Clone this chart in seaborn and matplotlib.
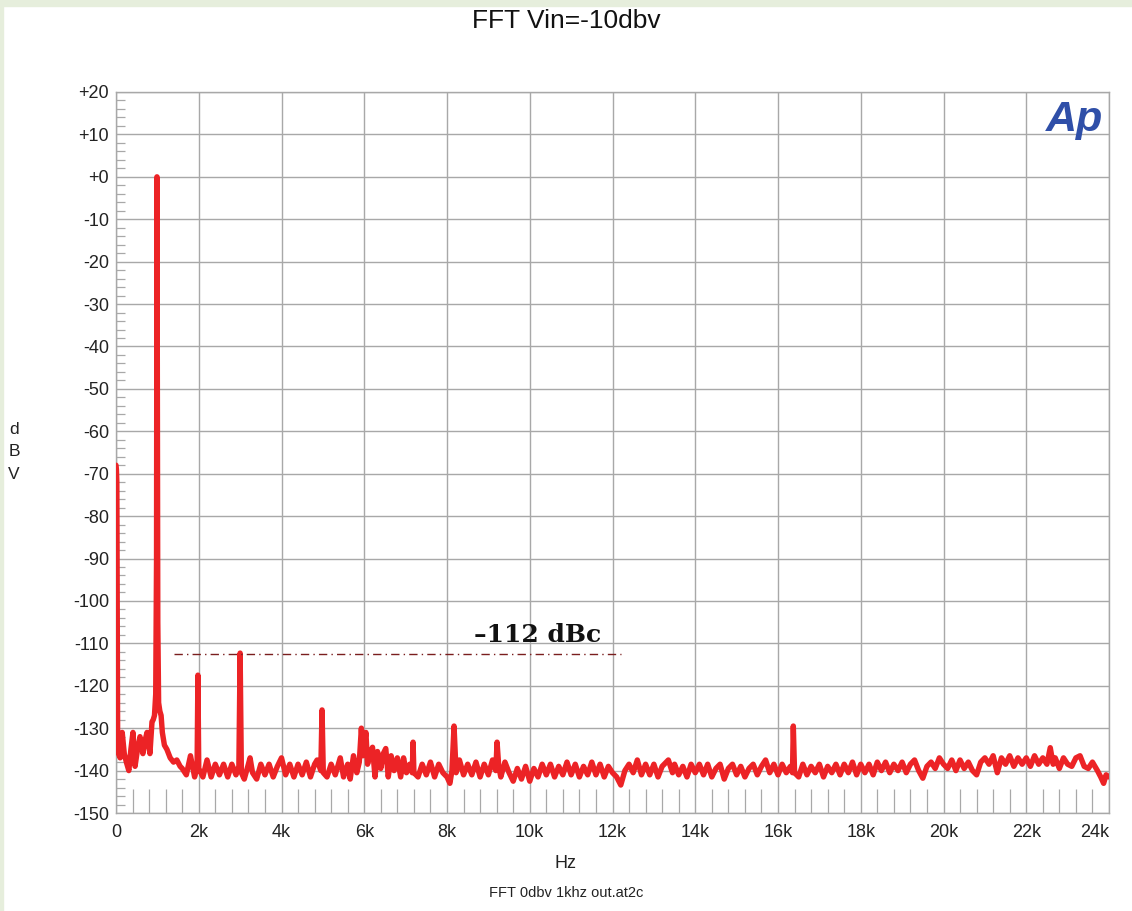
import numpy as np
import pandas as pd
import matplotlib
matplotlib.use("Agg")
import matplotlib.pyplot as plt
from matplotlib import font_manager
from matplotlib.ticker import MultipleLocator
import seaborn as sns

# ---------------- data ----------------
title_text = "FFT Vin=-10dbv"
xlabel_text = "Hz"
ylabel_text = "d\nB\nV"
file_text = "FFT 0dbv 1khz out.at2c"
note_text = "\u2013112 dBc"
note_level = -112.4
note_start_khz = 1.40
note_end_khz = 12.2

x_ticks_khz = [0, 2, 4, 6, 8, 10, 12, 14, 16, 18, 20, 22, 24]
x_tick_labels = ["0", "2k", "4k", "6k", "8k", "10k", "12k", "14k", "16k", "18k", "20k", "22k", "24k"]
y_ticks = [20, 10, 0, -10, -20, -30, -40, -50, -60, -70, -80, -90, -100, -110, -120, -130, -140, -150]
y_tick_labels = ["+20", "+10", "+0", "-10", "-20", "-30", "-40", "-50", "-60", "-70", "-80", "-90",
                 "-100", "-110", "-120", "-130", "-140", "-150"]

# spectrum: low-frequency region and fundamental
freq_low_khz = [0.00, 0.01, 0.02, 0.03, 0.04, 0.06, 0.10, 0.15, 0.20, 0.25, 0.31, 0.36, 0.41, 0.46,
                0.52, 0.58, 0.65, 0.70, 0.75, 0.82, 0.87, 0.90, 0.93, 0.96, 0.98, 0.99, 1.00, 1.01,
                1.03, 1.06, 1.09, 1.12, 1.17, 1.23, 1.31, 1.39, 1.47, 1.55]
level_low_dbv = [-68, -69, -72, -105, -134, -136, -137, -131, -136, -138, -140, -135, -131, -139,
                 -135, -132, -136, -133, -131, -136, -128.5, -128, -127, -122, -90, 0, -60, -105,
                 -124, -126, -127, -131, -134, -135, -137, -138, -137.5, -139]

# spectrum: 1.6 kHz .. 8 kHz
freq_mid_khz = [1.6, 1.7, 1.8, 1.9, 1.96, 1.98, 2.00, 2.1, 2.2, 2.3, 2.4, 2.5, 2.6, 2.7, 2.8, 2.9,
                2.97, 3.00, 3.03, 3.1, 3.2, 3.24, 3.3, 3.4, 3.5, 3.6, 3.7, 3.8, 3.9, 4.0, 4.1, 4.2,
                4.3, 4.4, 4.5, 4.6, 4.7, 4.8, 4.86, 4.95, 4.98, 5.01, 5.1, 5.2, 5.3, 5.42, 5.5, 5.6,
                5.66, 5.74, 5.82, 5.88, 5.93, 5.97, 6.04, 6.08, 6.14, 6.2, 6.26, 6.32, 6.4, 6.46,
                6.52, 6.58, 6.65, 6.72, 6.8, 6.88, 6.95, 7.02, 7.1, 7.16, 7.18, 7.2, 7.3, 7.4, 7.5,
                7.6, 7.7, 7.8, 7.9]
level_mid_dbv = [-139.5, -141, -136.5, -141.5, -139, -117.5, -139.5, -141.5, -137.5, -141.5,
                 -138.5, -141, -138.5, -141.5, -138.5, -141, -139, -112.3, -140.5, -142, -138.5,
                 -137, -140.5, -142, -138.5, -141, -138.5, -141.5, -139, -137, -141, -138.5,
                 -141.5, -138.5, -141, -138, -141.5, -138.5, -137.5, -140, -125.7, -140.5, -141.5,
                 -138.5, -141, -137, -141.5, -138.5, -142, -136.5, -140.5, -138, -130, -136.5,
                 -131, -138.5, -136, -134.5, -141.5, -135.5, -139.5, -136, -134.8, -141.5, -136.5,
                 -140, -137, -141.5, -137, -140.5, -138.5, -140.5, -133.3, -140.5, -141.5, -138.5,
                 -141, -138, -141.5, -138.5, -140.5]

# spectrum: 8 kHz .. 16 kHz
freq_high_khz = [8.0, 8.07, 8.12, 8.17, 8.22, 8.3, 8.4, 8.5, 8.6, 8.7, 8.8, 8.9, 9.0, 9.1, 9.18,
                 9.21, 9.25, 9.3, 9.4, 9.5, 9.6, 9.7, 9.8, 9.9, 10.0, 10.1, 10.2, 10.3, 10.4, 10.5,
                 10.6, 10.7, 10.8, 10.9, 11.0, 11.1, 11.2, 11.3, 11.4, 11.5, 11.6, 11.7, 11.8, 11.9,
                 12.0, 12.1, 12.2, 12.3, 12.4, 12.5, 12.6, 12.7, 12.8, 12.9, 13.0, 13.1, 13.2, 13.35,
                 13.45, 13.5, 13.6, 13.7, 13.8, 13.9, 14.0, 14.1, 14.2, 14.3, 14.4, 14.5, 14.6, 14.7,
                 14.8, 14.9, 15.0, 15.1, 15.2, 15.3, 15.4, 15.5, 15.6, 15.7, 15.8, 15.9]
level_high_dbv = [-141.5, -143, -140, -129.5, -140.5, -137.5, -141, -138.5, -141, -138, -141.5,
                  -138.5, -141, -137.5, -140, -133.3, -139, -141.5, -138, -140.5, -142.5, -139.5,
                  -142, -139, -142.5, -139.5, -141.5, -138.5, -141, -138.5, -141.5, -139, -141,
                  -138, -141, -138.5, -141.5, -139, -141, -138, -141, -138.5, -141.5, -139, -140.5,
                  -141.5, -143.4, -140, -138.5, -140.5, -137.5, -141, -138.5, -141, -138.5, -141.5,
                  -139, -137.5, -140.5, -138.5, -141, -139, -141.5, -138.5, -140.5, -138.5, -141,
                  -138.5, -141.5, -139.5, -138.5, -142, -139.5, -138.5, -141, -139, -141.5, -139.5,
                  -138.5, -141, -139, -137.5, -140.5, -138.5]

# spectrum: 16 kHz .. 24 kHz
freq_top_khz = [16.0, 16.1, 16.2, 16.3, 16.35, 16.37, 16.4, 16.5, 16.6, 16.7, 16.8, 16.9, 17.0,
                17.1, 17.2, 17.3, 17.4, 17.5, 17.6, 17.7, 17.8, 17.9, 18.0, 18.1, 18.2, 18.3, 18.4,
                18.5, 18.6, 18.7, 18.8, 18.9, 19.0, 19.1, 19.2, 19.3, 19.4, 19.5, 19.6, 19.7, 19.8,
                19.9, 20.0, 20.1, 20.2, 20.3, 20.4, 20.5, 20.6, 20.7, 20.8, 20.9, 21.0, 21.1, 21.2,
                21.3, 21.4, 21.5, 21.6, 21.7, 21.8, 21.9, 22.0, 22.1, 22.2, 22.3, 22.4, 22.5, 22.58,
                22.65, 22.7, 22.8, 22.9, 23.0, 23.1, 23.2, 23.3, 23.4, 23.5, 23.6, 23.72, 23.8,
                23.87, 23.93, 24.0]
level_top_dbv = [-141, -138.5, -140.5, -139, -140.5, -129.5, -140.5, -141.5, -138.5, -141, -139,
                 -140.5, -138.5, -141.5, -139, -140.5, -138.5, -141, -138.5, -140.5, -138, -141,
                 -138.5, -140.5, -138.5, -141, -138, -140, -138, -140.5, -138.5, -140, -138, -140.5,
                 -138.5, -137.5, -140, -141.8, -139, -138, -139.5, -137, -138.5, -139.5, -137.5,
                 -140, -137.5, -139.5, -138, -140, -141, -138, -137, -138.5, -136.5, -140.5, -137,
                 -138.5, -136.5, -139, -137, -138.5, -137, -139, -136.5, -138.5, -137, -138.5,
                 -134.6, -138.5, -137, -139.5, -137, -138.5, -139, -137, -136.5, -139, -139.5,
                 -138, -140, -141.5, -143, -141, -141.5]

# ---------------- fonts ----------------
def has_font(name):
    try:
        font_manager.findfont(font_manager.FontProperties(family=name), fallback_to_default=False)
        return True
    except Exception:
        return False

narrow = "Liberation Sans Narrow" if has_font("Liberation Sans Narrow") else "Liberation Sans"

sns.set_theme(style="white")
plt.rcParams["font.family"] = ["Liberation Sans", "DejaVu Sans"]

grid_col = "#a8a8a8"
trace_col = "#ec2326"

df = pd.DataFrame({
    "freq": np.array(freq_low_khz + freq_mid_khz + freq_high_khz + freq_top_khz),
    "level": np.array(level_low_dbv + level_mid_dbv + level_high_dbv + level_top_dbv),
})

fig = plt.figure(figsize=(11.32, 9.11), dpi=100, facecolor="white")
ax = fig.add_axes([116 / 1132, 1 - 813 / 911, (1109 - 116) / 1132, (813 - 92) / 911])
ax.set_facecolor("white")

# light green frame strips (top and left)
fig.patches.append(plt.Rectangle((0, 1 - 6 / 911), 1, 6 / 911, transform=fig.transFigure,
                                 color="#e6eedc", zorder=0))
fig.patches.append(plt.Rectangle((0, 0), 3 / 1132, 1, transform=fig.transFigure,
                                 color="#e6eedc", zorder=0))

ax.set_xlim(0, 24)
ax.set_ylim(-150, 20)

ax.set_xticks(x_ticks_khz)
ax.set_xticklabels(x_tick_labels)
ax.set_yticks(y_ticks)
ax.set_yticklabels(y_tick_labels)
ax.xaxis.set_minor_locator(MultipleLocator(0.4))
ax.yaxis.set_minor_locator(MultipleLocator(2))

ax.grid(True, which="major", color=grid_col, linewidth=1.0)
ax.tick_params(axis="both", which="major", length=0, labelsize=13, colors="#222222")
ax.tick_params(axis="x", which="major", pad=8)
ax.tick_params(axis="y", which="major", pad=5)
ax.tick_params(axis="x", which="minor", direction="in", length=17, width=0.9, color=grid_col,
               bottom=True)
ax.tick_params(axis="y", which="minor", direction="in", length=6.5, width=0.9, color=grid_col,
               left=True)
for s in ax.spines.values():
    s.set_color(grid_col)
    s.set_linewidth(1.0)

lbls = ax.get_xticklabels()
lbls[-1].set_horizontalalignment("right")

sns.lineplot(data=df, x="freq", y="level", ax=ax, color=trace_col, linewidth=3.9,
             estimator=None, sort=False, legend=False, zorder=3)
ax.set_xlabel("")
ax.set_ylabel("")

# reference annotation
ax.hlines(note_level, note_start_khz, note_end_khz, colors="#7a1e1e", linewidth=1.0,
          linestyles=[(0, (6, 3, 1, 3))], zorder=4)
ax.text(10.2, note_level + 1.5, note_text, ha="center", va="bottom", fontsize=18,
        fontweight="bold", family=["DejaVu Serif"], color="#111111", zorder=5)

# Ap logo
ax.text(23.85, 13.3, "Ap", ha="right", va="center", fontsize=31, fontweight="bold",
        fontstyle="italic", color="#2f4fa8", family=["Liberation Sans", "DejaVu Sans"], zorder=5)

# texts
fig.text(566 / 1132, 1 - 21 / 911, title_text, ha="center", va="center", fontsize=19,
         family=[narrow, "DejaVu Sans"], color="#111111")
fig.text(566 / 1132, 1 - 863 / 911, xlabel_text, ha="center", va="center", fontsize=13,
         color="#222222")
fig.text(566 / 1132, 1 - 893 / 911, file_text, ha="center", va="center", fontsize=10.5,
         color="#222222")
fig.text(14 / 1132, 1 - 452 / 911, ylabel_text, ha="center", va="center", fontsize=12.5,
         linespacing=1.65, color="#222222")

fig.savefig("out.png", dpi=100, facecolor="white")
